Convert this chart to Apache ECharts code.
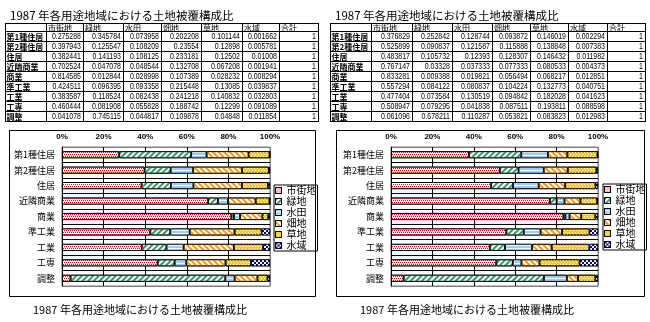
<!DOCTYPE html>
<html><head><meta charset="utf-8">
<script src="https://cdn.jsdelivr.net/npm/echarts@6/dist/echarts.min.js"></script>
<style>html,body{margin:0;padding:0;background:#fff}#c{width:650px;height:322px}</style>
</head><body><div id="c"></div>
<script>
// ---------------- data ----------------
const titleText = '1987 年各用途地域における土地被覆構成比';
const categories = ['第1種住居','第2種住居','住居','近隣商業','商業','準工業','工業','工専','調整'];
const seriesNames = ['市街地','緑地','水田','畑地','草地','水域'];
const totalLabel = '合計';
const xTickValues = [0, 0.2, 0.4, 0.6, 0.8, 1];

// left panel
const leftUrban = [0.275288, 0.397943, 0.382441, 0.702524, 0.814585, 0.424511, 0.383587, 0.460444, 0.041078];
const leftGreen = [0.345784, 0.125547, 0.141193, 0.047078, 0.012844, 0.096395, 0.118524, 0.081908, 0.745115];
const leftPaddy = [0.073958, 0.108209, 0.108125, 0.048544, 0.028998, 0.093358, 0.082438, 0.055828, 0.044817];
const leftField = [0.202208, 0.23554, 0.233181, 0.132708, 0.107389, 0.215448, 0.241218, 0.188742, 0.109878];
const leftGrass = [0.101144, 0.12898, 0.12502, 0.067208, 0.028232, 0.13085, 0.140832, 0.12299, 0.04848];
const leftWater = [0.001662, 0.005781, 0.01008, 0.001941, 0.008294, 0.039837, 0.032803, 0.091089, 0.011854];

// right panel
const rightUrban = [0.376829, 0.525899, 0.483817, 0.767147, 0.833281, 0.557294, 0.477404, 0.508947, 0.061096];
const rightGreen = [0.252842, 0.090837, 0.105732, 0.03328, 0.009388, 0.084122, 0.073584, 0.079295, 0.678211];
const rightPaddy = [0.128744, 0.121587, 0.12393, 0.037333, 0.019821, 0.080837, 0.130519, 0.041838, 0.110287];
const rightField = [0.093872, 0.115888, 0.128307, 0.077333, 0.056494, 0.104224, 0.094842, 0.087511, 0.053821];
const rightGrass = [0.146019, 0.138848, 0.146432, 0.080533, 0.068217, 0.132773, 0.182028, 0.193811, 0.083823];
const rightWater = [0.002294, 0.007383, 0.011982, 0.004373, 0.012851, 0.040751, 0.041623, 0.088598, 0.012983];

// ---------------- styling ----------------
const CJK = '"Noto Sans CJK JP", sans-serif';
const NUM = '"Liberation Sans", Arial, sans-serif';
const patterns = [
  {color:'#ffffff', decal:{symbol:'rect', symbolSize:1, color:'#ff0000', dashArrayX:[[1,1],[0,1,1,0]], dashArrayY:[1,1], rotation:0}},
  {color:'#ffffff', decal:{symbol:'rect', symbolSize:1, color:'#339966', dashArrayX:[1,0], dashArrayY:[2,2], rotation:-Math.PI/4}},
  {color:'#ffffff', decal:{symbol:'rect', symbolSize:1, color:'#99ccff', dashArrayX:[1,0], dashArrayY:[2,1], rotation:0}},
  {color:'#ffffff', decal:{symbol:'rect', symbolSize:1, color:'#ff9900', dashArrayX:[1,0], dashArrayY:[2,2], rotation:Math.PI/4}},
  {color:'#ffcc00', decal:{symbol:'rect', symbolSize:1, color:'#ffffff', dashArrayX:[[1,2],[0,2,1,0]], dashArrayY:[1,1], rotation:0}},
  {color:'#000080', decal:{symbol:'rect', symbolSize:1, color:'#ffffff', dashArrayX:[[2,2],[0,2,2,0]], dashArrayY:[2,0], rotation:0}}
];

const panels = [
  {cols:[leftUrban,leftGreen,leftPaddy,leftField,leftGrass,leftWater],
   colX:[5,46,83,123,161,201,242,279,318], rowY:[23,31,41,51,61,71,81,91,101,111,121],
   titleX:10, grid:{left:62, top:147, width:208, height:139},
   box:{x:9,y:130,w:306,h:166}, legend:{left:274, top:185}, captionX:33},
  {cols:[rightUrban,rightGreen,rightPaddy,rightField,rightGrass,rightWater],
   colX:[330,371,412,452,492,530,568,607,645], rowY:[23,31,41,51,61,71,81,91,101,111,121],
   titleX:335, grid:{left:391, top:147, width:207, height:139},
   box:{x:336,y:130,w:308,h:166}, legend:{left:603, top:184}, captionX:360}
];

const graphics = [];
function hline(x1,x2,y,c){graphics.push({type:'line',silent:true,shape:{x1:x1,y1:y+0.5,x2:x2+1,y2:y+0.5},style:{stroke:c||'#000',lineWidth:1}});}
function vline(x,y1,y2,c){graphics.push({type:'line',silent:true,shape:{x1:x+0.5,y1:y1,x2:x+0.5,y2:y2+1},style:{stroke:c||'#000',lineWidth:1}});}
function txt(x,y,s,align,font,sx){graphics.push({type:'text',silent:true,x:x,y:y,scaleX:sx||1,style:{text:s,fill:'#000',font:font,textAlign:align,textVerticalAlign:'middle',verticalAlign:'middle'}});}

const grids=[], xAxes=[], yAxes=[], series=[], legends=[];
panels.forEach((p,pi)=>{
  const totals = categories.map((c,i)=>p.cols.reduce((s,a)=>s+a[i],0));
  // table
  const cx=p.colX, ry=p.rowY;
  ry.forEach(y=>hline(cx[0],cx[cx.length-1],y));
  cx.forEach(x=>vline(x,ry[0],ry[ry.length-1]));
  const heads = seriesNames.concat([totalLabel]);
  heads.forEach((h,j)=>txt(cx[j+1]+2,(ry[0]+ry[1])/2+0.5,h,'left','8px '+CJK));
  categories.forEach((c,i)=>{
    const ym=(ry[i+1]+ry[i+2])/2+0.5;
    txt(cx[0]+1.5,ym,c,'left','bold 8px '+CJK);
    p.cols.forEach((arr,k)=>txt(cx[k+2]-2,ym,String(arr[i]),'right','8.5px '+NUM,0.82));
    txt(cx[8]-2,ym,String(Math.round(totals[i])),'right','8.5px '+NUM,0.82);
  });
  txt(p.titleX,16,titleText,'left','11.5px '+CJK);
  graphics.push({type:'rect',silent:true,z:-1,shape:{x:p.box.x+0.5,y:p.box.y+0.5,width:p.box.w,height:p.box.h},style:{fill:'transparent',stroke:'#000',lineWidth:1}});
  txt(p.captionX,310,titleText,'left','11px '+CJK);

  grids.push(Object.assign({show:true,borderColor:'#808080',borderWidth:1,backgroundColor:'transparent',containLabel:false},p.grid));
  xAxes.push({type:'value',gridIndex:pi,position:'top',min:0,max:1,interval:0.2,
    axisLine:{show:false},axisTick:{show:false},
    axisLabel:{fontSize:8,fontWeight:'bold',fontFamily:NUM,color:'#000',margin:6,
      formatter:v=>xTickValues.indexOf(+v.toFixed(1))>=0?Math.round(v*100)+'%':''},
    splitLine:{show:true,lineStyle:{color:['#000','#000','#000','#000','#000','#808080'],width:1}}});
  yAxes.push({type:'category',gridIndex:pi,inverse:true,data:categories,
    axisLine:{show:true,lineStyle:{color:'#000',width:1}},
    axisTick:{show:false},
    axisLabel:{fontSize:9,fontFamily:CJK,color:'#000',margin:7},
    splitLine:{show:true,lineStyle:{color:['#808080','#000','#000','#000','#000','#000','#000','#000','#000','#808080'],width:1}}});
  p.cols.forEach((arr,k)=>{
    series.push({type:'bar',name:seriesNames[k],xAxisIndex:pi,yAxisIndex:pi,stack:'s'+pi,barWidth:7,
      data:arr.map((v,i)=>v/totals[i]),
      itemStyle:{color:patterns[k].color,decal:patterns[k].decal,borderColor:'#000',borderWidth:0.8},
      emphasis:{disabled:true},silent:true});
  });
  legends.push({left:p.legend.left,top:p.legend.top,orient:'vertical',data:seriesNames,icon:'rect',
    itemWidth:6,itemHeight:6,itemGap:0,itemTextGap:2,selectedMode:false,
    borderColor:'#000',borderWidth:1,padding:[0,1,0,1],
    itemStyle:{borderColor:'#000',borderWidth:1},
    textStyle:{fontSize:10,lineHeight:11,fontFamily:CJK,color:'#000'}});
});

const chart = echarts.init(document.getElementById('c'),null,{renderer:'canvas'});
chart.setOption({animation:false,backgroundColor:'#fff',grid:grids,xAxis:xAxes,yAxis:yAxes,series:series,legend:legends,graphic:graphics});
</script></body></html>
